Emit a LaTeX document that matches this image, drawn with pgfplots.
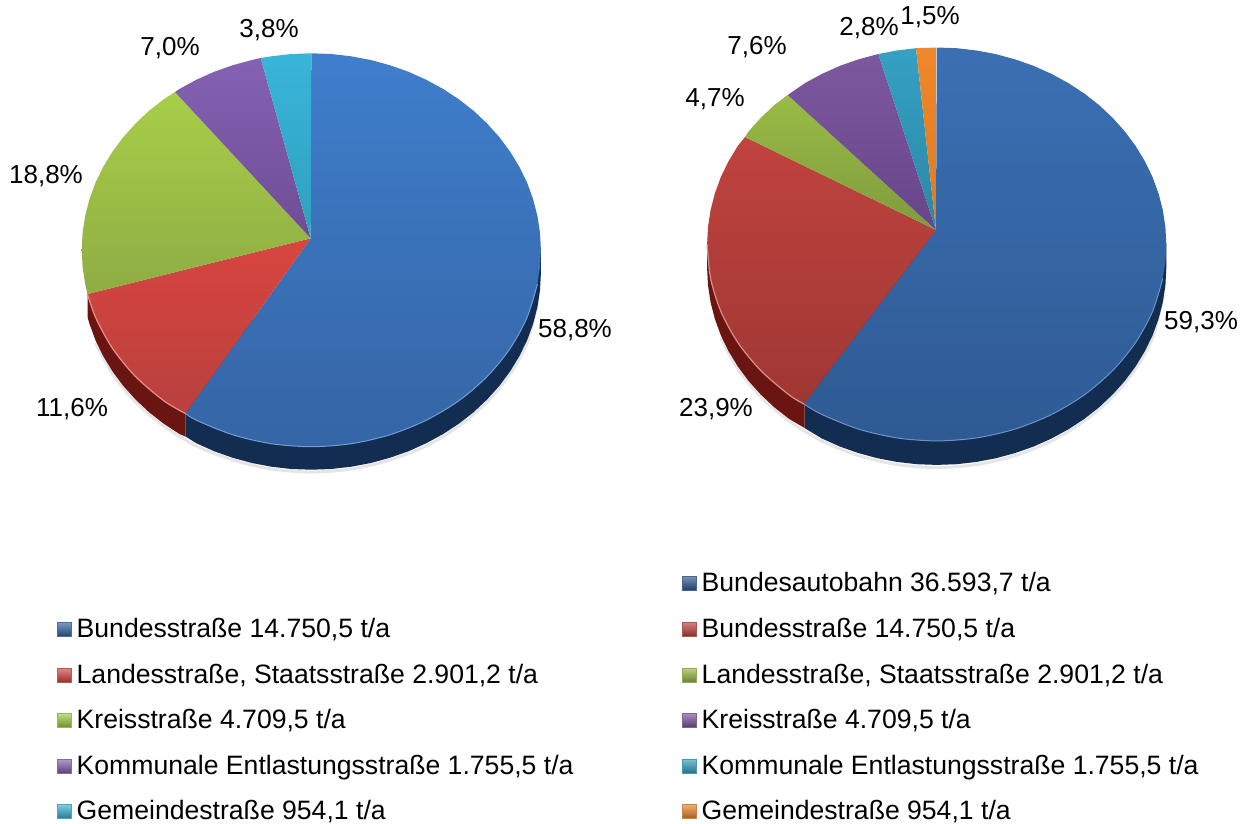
\documentclass[border=0pt]{standalone}
\usepackage{fontspec}
\setmainfont{Liberation Sans}
\usepackage{pgfplots}
\pgfplotsset{compat=1.18}
\definecolor{lbT}{HTML}{3F7ECC}\definecolor{lbB}{HTML}{3565A5}
\definecolor{lrT}{HTML}{D9453F}\definecolor{lrB}{HTML}{B8403E}
\definecolor{lgT}{HTML}{A8CE48}\definecolor{lgB}{HTML}{8FAC44}
\definecolor{lpT}{HTML}{8462B4}\definecolor{lpB}{HTML}{6F4C94}
\definecolor{ltT}{HTML}{38B5DA}\definecolor{ltB}{HTML}{2FA0BE}
\definecolor{rbT}{HTML}{3A70B3}\definecolor{rbB}{HTML}{2F5A94}
\definecolor{rrT}{HTML}{C0433E}\definecolor{rrB}{HTML}{9F3733}
\definecolor{rgT}{HTML}{9ABB46}\definecolor{rgB}{HTML}{7F9B3C}
\definecolor{rpT}{HTML}{7D58A0}\definecolor{rpB}{HTML}{674589}
\definecolor{rtT}{HTML}{35A1C4}\definecolor{rtB}{HTML}{2B87A5}
\definecolor{roT}{HTML}{F0882A}\definecolor{roB}{HTML}{DE7A22}
\definecolor{sideB}{HTML}{122D50}\definecolor{sideR}{HTML}{6B1512}
\newcommand\wedgeplot[3]{\addplot[draw=none,forget plot,top color=#1,bottom color=#2] coordinates {#3};}
\newcommand\lab[3]{\node[anchor=center,inner sep=0pt,font=\fontsize{26}{30}\selectfont] at (axis cs:#1,#2+1) {#3};}
% x0 x1 y0 y1 colour text
\newcommand\entry[6]{%
  \addplot[forget plot,no markers,line width=0.6pt,draw=#5!70!gray,top color=#5!65!white,middle color=#5,bottom color=#5!70!black] coordinates {(#1,#3)(#2,#3)(#2,#4)(#1,#4)(#1,#3)};
  \node[anchor=base west,inner sep=0pt,font=\fontsize{26.6}{30}\selectfont] at (axis cs:#2+5.5,#3+15.7) {#6};}
\begin{document}
\begin{tikzpicture}
\path[use as bounding box] (0,0) rectangle (1249pt,823pt);
\begin{axis}[
  at={(0,0)},anchor=south west,
  scale only axis,width=1249pt,height=823pt,
  xmin=0,xmax=1249,ymin=0,ymax=823,y dir=reverse,
  hide axis,clip=false]
% ===== left pie
\addplot[forget plot,no markers,smooth,line width=3pt,color=black!25,opacity=.4] coordinates {(538,300)(527.1,343)(510.1,374)(487.2,402)(458.9,426)(426.1,446)(389.8,460)(351.2,469)(311.3,472)(271.4,469)(232.8,460)(196.5,446)(163.7,426)(135.4,402)(112.5,374)(95.5,343)};
\addplot[draw=none,fill=sideB,forget plot] coordinates {(540.9,273)(540,290.2)(537.4,307.2)(533.1,323.9)(527.1,340.3)(519.4,356.1)(510.1,371.4)(499.4,385.8)(487.2,399.4)(473.7,412.1)(458.9,423.7)(443,434.1)(426.1,443.3)(408.3,451.3)(389.8,457.8)(370.7,463)(351.2,466.7)(331.3,469)(311.3,469.7)(291.3,469)(271.4,466.7)(251.9,463)(232.8,457.8)(214.3,451.3)(196.5,443.3)(185.5,436.5)(185.5,400)(311,250)(540.9,250)};
\addplot[draw=none,fill=sideR,forget plot] coordinates {(185.5,436.5)(179.6,434.1)(163.7,423.7)(148.9,412.1)(135.4,399.4)(123.2,385.8)(112.5,371.4)(103.2,356.1)(95.5,340.3)(89.5,323.9)(87.5,317)(87.5,294)(185.5,400)};
\wedgeplot{lbT}{lbB}{(310.7,238.3)(311.3,53.3)(331.3,54)(351.2,56.3)(370.7,60)(389.8,65.2)(408.3,71.7)(426.1,79.7)(443,88.9)(458.9,99.3)(473.7,110.9)(487.2,123.6)(499.4,137.2)(510.1,151.6)(519.4,166.9)(527.1,182.7)(533.1,199.1)(537.4,215.8)(540,232.8)(540.9,250)(540,267.2)(537.4,284.2)(533.1,300.9)(527.1,317.3)(519.4,333.1)(510.1,348.4)(499.4,362.8)(487.2,376.4)(473.7,389.1)(458.9,400.7)(443,411.1)(426.1,420.3)(408.3,428.3)(389.8,434.8)(370.7,440)(351.2,443.7)(331.3,446)(311.3,446.7)(291.3,446)(271.4,443.7)(251.9,440)(232.8,434.8)(214.3,428.3)(196.5,420.3)(185.5,413.5)}
\wedgeplot{lrT}{lrB}{(310.7,238.3)(185.5,413.5)(179.6,411.1)(163.7,400.7)(148.9,389.1)(135.4,376.4)(123.2,362.8)(112.5,348.4)(103.2,333.1)(95.5,317.3)(89.5,300.9)(87.5,294)}
\wedgeplot{lgT}{lgB}{(310.7,238.3)(87.5,294)(85.2,284.2)(82.6,267.2)(81.7,250)(82.6,232.8)(85.2,215.8)(89.5,199.1)(95.5,182.7)(103.2,166.9)(112.5,151.6)(123.2,137.2)(135.4,123.6)(148.9,110.9)(163.7,99.3)(175,92)}
\wedgeplot{lpT}{lpB}{(310.7,238.3)(175,92)(179.6,88.9)(196.5,79.7)(214.3,71.7)(232.8,65.2)(251.9,60)(260.7,58)}
\wedgeplot{ltT}{ltB}{(310.7,238.3)(260.7,58)(271.4,56.3)(291.3,54)(311.3,53.3)}
\addplot[forget plot,no markers,smooth,line width=1.2pt,color=lrT!60!white] coordinates {(185.5,413.5)(163.7,400.7)(135.4,376.4)(112.5,348.4)(95.5,317.3)(87.5,294)};
\addplot[forget plot,no markers,smooth,line width=1pt,color=lbT!75!white] coordinates {(185.5,413.5)(196.5,420.3)(232.8,434.8)(271.4,443.7)(311.3,446.7)(351.2,443.7)(389.8,434.8)(426.1,420.3)(458.9,400.7)(487.2,376.4)(510.1,348.4)(527.1,317.3)(537.4,284.2)};
% ===== right pie
\addplot[forget plot,no markers,smooth,line width=3pt,color=black!25,opacity=.4] coordinates {(1163,295)(1152.5,338)(1135.5,369)(1112.6,397)(1084.3,421)(1051.5,441)(1015.2,455.5)(976.6,464.5)(936.7,467.5)(896.8,464.5)(858.2,455.5)(821.9,441)(789.1,421)(760.8,397)(737.9,369)(720.9,338)};
\addplot[draw=none,fill=sideB,forget plot] coordinates {(1166.3,268.2)(1165.4,285.4)(1162.8,302.4)(1158.5,319.1)(1152.5,335.5)(1144.8,351.3)(1135.5,366.6)(1124.8,381)(1112.6,394.6)(1099.1,407.3)(1084.3,418.9)(1068.4,429.3)(1051.5,438.5)(1033.7,446.5)(1015.2,453)(996.1,458.2)(976.6,461.9)(956.7,464.2)(936.7,464.9)(916.7,464.2)(896.8,461.9)(877.3,458.2)(858.2,453)(839.7,446.5)(821.9,438.5)(804.5,428)(804.5,390)(936,230)(1166.3,244.2)};
\addplot[draw=none,fill=sideR,forget plot] coordinates {(804.5,428)(789.1,418.9)(774.3,407.3)(760.8,394.6)(748.6,381)(737.9,366.6)(728.6,351.3)(720.9,335.5)(714.9,319.1)(710.6,302.4)(708,285.4)(707.1,268.2)(707.1,244.2)(804.5,390)};
\wedgeplot{rbT}{rbB}{(936,230)(936.7,47.5)(956.7,48.2)(976.6,50.5)(996.1,54.2)(1015.2,59.4)(1033.7,65.9)(1051.5,73.9)(1068.4,83.1)(1084.3,93.5)(1099.1,105.1)(1112.6,117.8)(1124.8,131.4)(1135.5,145.8)(1144.8,161.1)(1152.5,176.9)(1158.5,193.3)(1162.8,210)(1165.4,227)(1166.3,244.2)(1165.4,261.4)(1162.8,278.4)(1158.5,295.1)(1152.5,311.5)(1144.8,327.3)(1135.5,342.6)(1124.8,357)(1112.6,370.6)(1099.1,383.3)(1084.3,394.9)(1068.4,405.3)(1051.5,414.5)(1033.7,422.5)(1015.2,429)(996.1,434.2)(976.6,437.9)(956.7,440.2)(936.7,440.9)(916.7,440.2)(896.8,437.9)(877.3,434.2)(858.2,429)(839.7,422.5)(821.9,414.5)(804,404)}
\wedgeplot{rrT}{rrB}{(936,230)(804,404)(789.1,394.9)(774.3,383.3)(760.8,370.6)(748.6,357)(737.9,342.6)(728.6,327.3)(720.9,311.5)(714.9,295.1)(710.6,278.4)(708,261.4)(707.1,244.2)(708,227)(710.6,210)(714.9,193.3)(720.9,176.9)(728.6,161.1)(737.9,145.8)(745,137)}
\wedgeplot{rgT}{rgB}{(936,230)(745,137)(748.6,131.4)(760.8,117.8)(774.3,105.1)(787.7,95)}
\wedgeplot{rpT}{rpB}{(936,230)(787.7,95)(805,83.1)(821.9,73.9)(839.7,65.9)(858.2,59.4)(878.3,54)}
\wedgeplot{rtT}{rtB}{(936,230)(878.3,54)(896.8,50.5)(916,48.2)}
\wedgeplot{roT}{roB}{(936,230)(916,48.2)(936.7,47.5)}
\addplot[forget plot,no markers,smooth,line width=1.2pt,color=rrT!60!white] coordinates {(804,404)(789.1,394.9)(760.8,370.6)(737.9,342.6)(720.9,311.5)(710.6,278.4)(707.1,244.2)};
\addplot[forget plot,no markers,smooth,line width=1pt,color=rbT!75!white] coordinates {(804,404)(821.9,414.5)(858.2,429)(896.8,437.9)(936.7,440.9)(976.6,437.9)(1015.2,429)(1051.5,414.5)(1084.3,394.9)(1112.6,370.6)(1135.5,342.6)(1152.5,311.5)(1162.8,278.4)};
% ===== percentage labels
\lab{269}{29}{3,8\%}
\lab{170}{47}{7,0\%}
\lab{46}{175}{18,8\%}
\lab{575}{329}{58,8\%}
\lab{72}{408}{11,6\%}
\lab{1201}{321}{59,3\%}
\lab{716}{408}{23,9\%}
\lab{715}{98}{4,7\%}
\lab{757}{46}{7,6\%}
\lab{869}{27}{2,8\%}
\lab{930}{16}{1,5\%}
% ===== legends
\entry{57}{71}{622}{636}{lbB}{Bundesstraße 14.750,5 t/a}
\entry{57}{71}{668}{682}{lrT}{Landesstraße, Staatsstraße 2.901,2 t/a}
\entry{57}{71}{713}{727}{lgT}{Kreisstraße 4.709,5 t/a}
\entry{57}{71}{759}{773}{lpT}{Kommunale Entlastungsstraße 1.755,5 t/a}
\entry{57}{71}{804}{818}{ltT}{Gemeindestraße 954,1 t/a}
\entry{682}{696}{576}{590}{rbB}{Bundesautobahn 36.593,7 t/a}
\entry{682}{696}{622}{636}{rrT}{Bundesstraße 14.750,5 t/a}
\entry{682}{696}{668}{682}{rgT}{Landesstraße, Staatsstraße 2.901,2 t/a}
\entry{682}{696}{713}{727}{rpT}{Kreisstraße 4.709,5 t/a}
\entry{682}{696}{759}{773}{rtT}{Kommunale Entlastungsstraße 1.755,5 t/a}
\entry{682}{696}{804}{818}{roT}{Gemeindestraße 954,1 t/a}
\end{axis}
\end{tikzpicture}
\end{document}
